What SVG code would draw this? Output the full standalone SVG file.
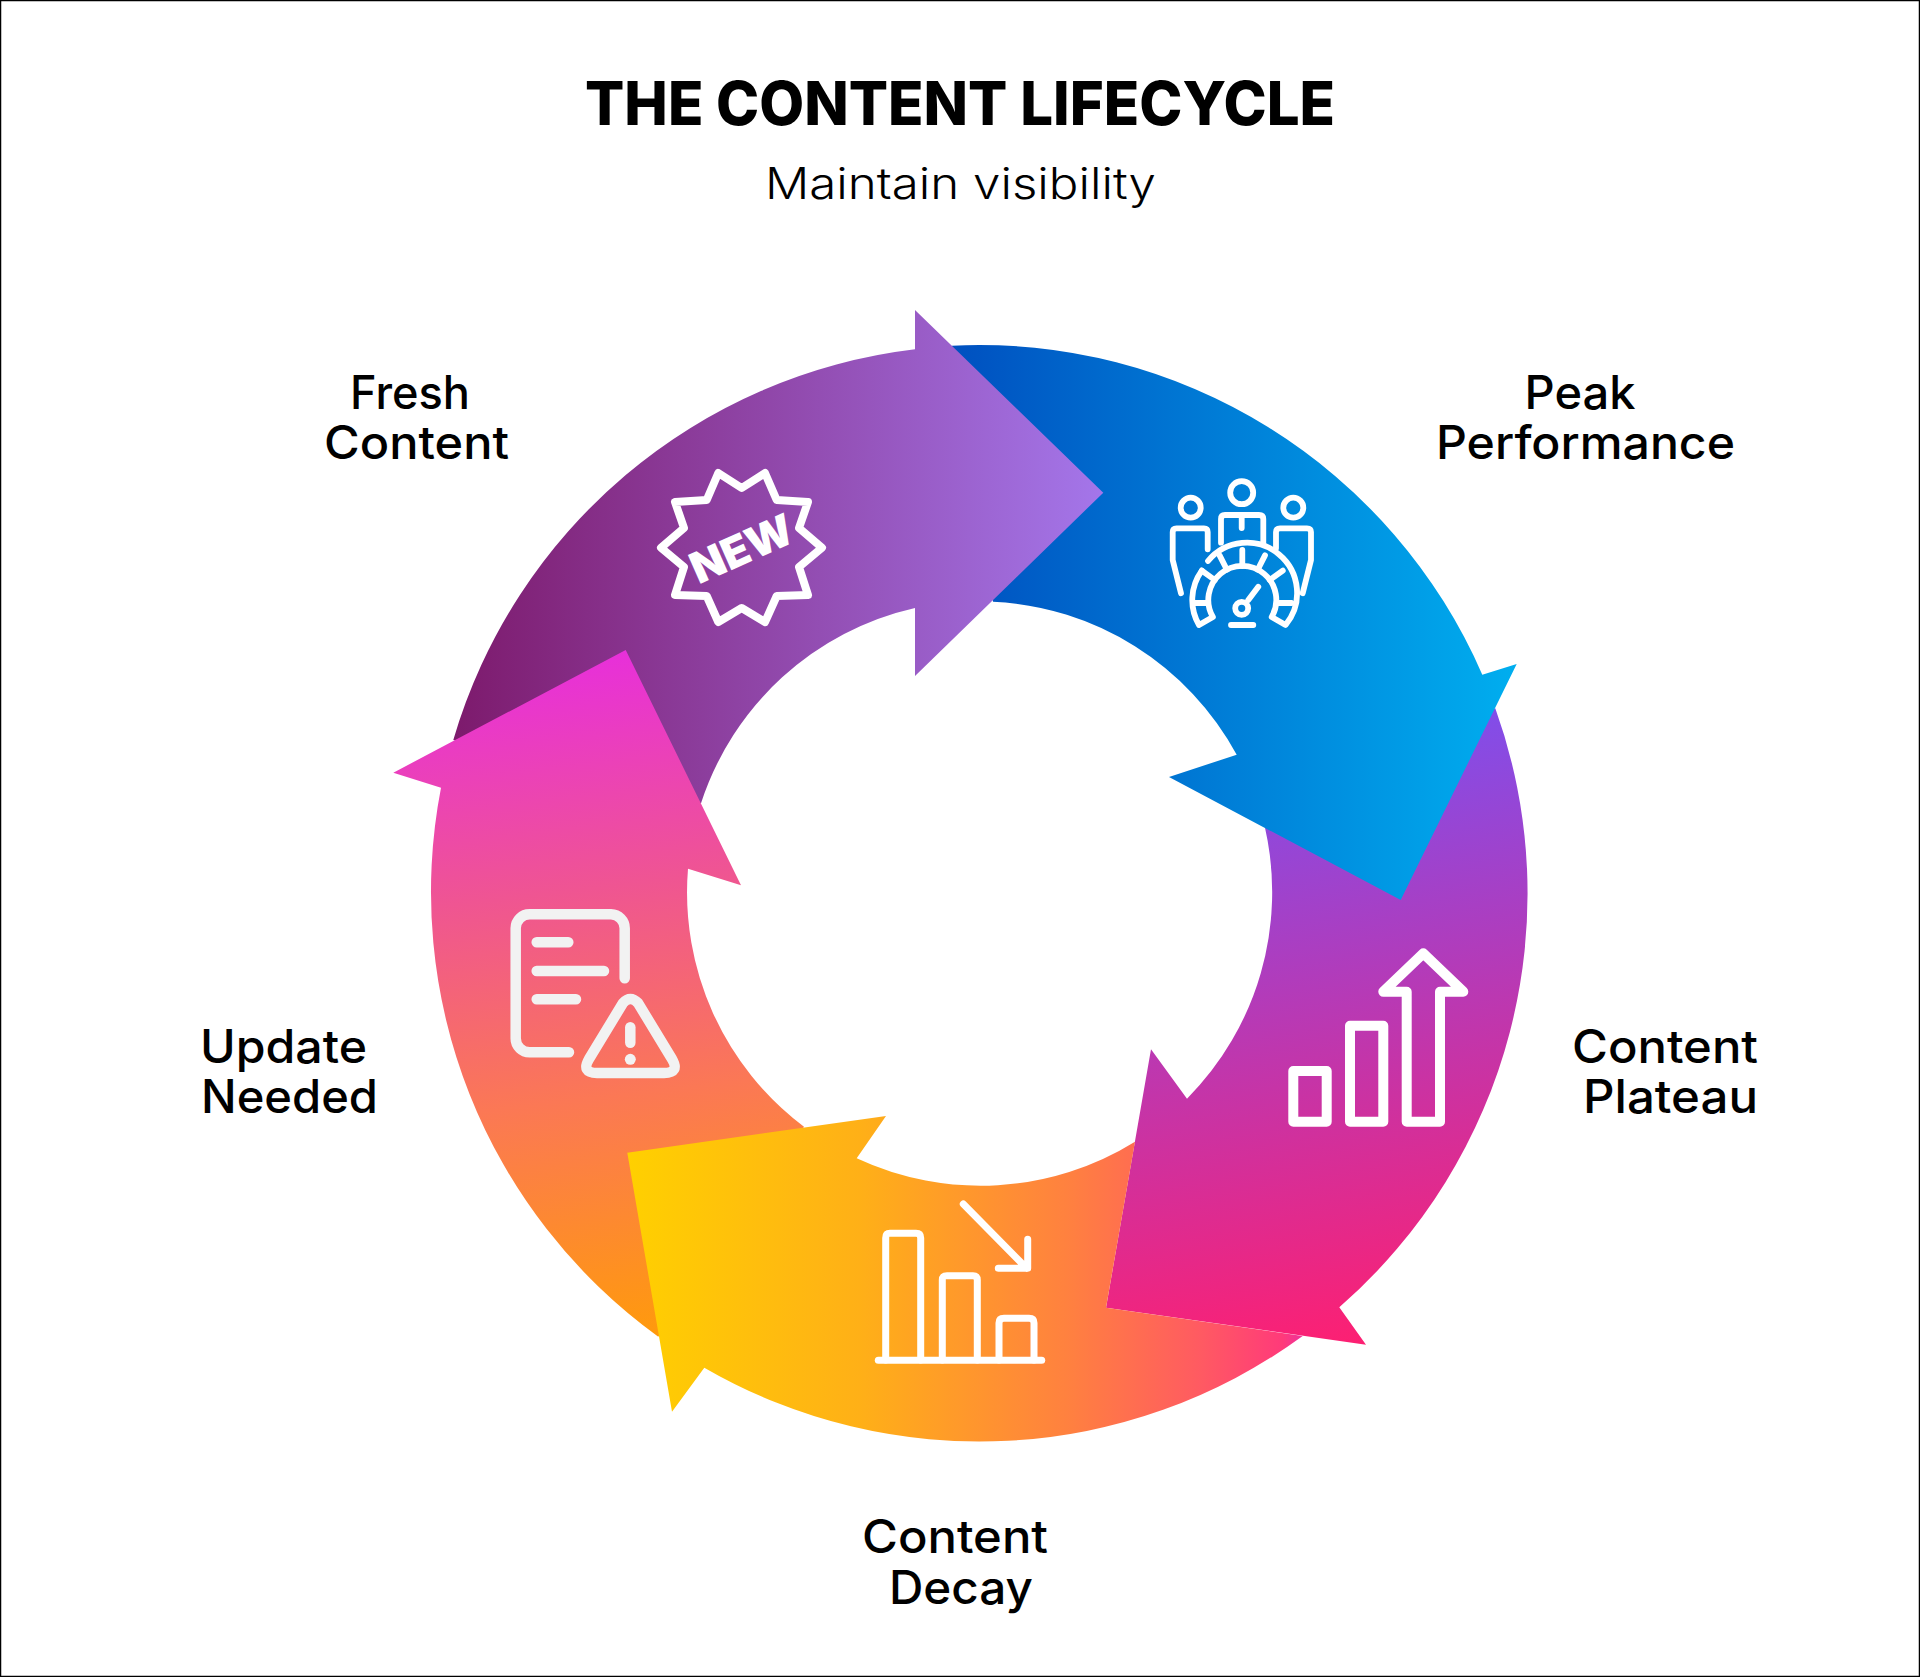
<svg xmlns="http://www.w3.org/2000/svg" width="1920" height="1677" viewBox="0 0 1920 1677">
<style>
text{font-family:"Inter","Noto Sans","Liberation Sans",sans-serif;fill:#000}
.lb{font-size:46px;font-weight:500}
.ic{fill:none;stroke:#fff;stroke-linecap:round;stroke-linejoin:round}
</style>
<defs>
<linearGradient id="gP" gradientUnits="userSpaceOnUse" x1="453" y1="0" x2="1103" y2="0"><stop offset="0" stop-color="#7d1a6c"/><stop offset="1" stop-color="#a476ea"/></linearGradient>
<linearGradient id="gB" gradientUnits="userSpaceOnUse" x1="952" y1="0" x2="1516" y2="0"><stop offset="0" stop-color="#0050c0"/><stop offset="1" stop-color="#00aeef"/></linearGradient>
<linearGradient id="gV" gradientUnits="userSpaceOnUse" x1="1300" y1="708" x2="1410" y2="1346"><stop offset="0" stop-color="#7a50f0"/><stop offset="1" stop-color="#ff1f70"/></linearGradient>
<linearGradient id="gY" gradientUnits="userSpaceOnUse" x1="627" y1="0" x2="1310" y2="0"><stop offset="0" stop-color="#ffd000"/><stop offset=".34" stop-color="#ffb017"/><stop offset=".65" stop-color="#ff8040"/><stop offset=".84" stop-color="#ff5a62"/><stop offset=".96" stop-color="#ff3a7a"/><stop offset="1" stop-color="#e82ea8"/></linearGradient>
<linearGradient id="gO" gradientUnits="userSpaceOnUse" x1="540" y1="650" x2="620" y2="1340"><stop offset="0" stop-color="#e72edd"/><stop offset=".35" stop-color="#ef5592"/><stop offset=".65" stop-color="#fb7855"/><stop offset="1" stop-color="#ff9a0c"/></linearGradient>
</defs>
<rect width="1920" height="1677" fill="#fff"/>
<rect x="0.5" y="0.5" width="1919" height="1676" fill="none" stroke="#000" stroke-width="1.5"/>
<g id="title">
<text x="585" y="125" font-size="61" font-weight="800" textLength="750" lengthAdjust="spacingAndGlyphs">THE CONTENT LIFECYCLE</text>
<text x="765" y="199" font-size="43" font-weight="300" textLength="391" lengthAdjust="spacingAndGlyphs">Maintain visibility</text>
</g>
<g id="connectors">
<path id="arrow-plateau" fill="url(#gV)" d="M1495.3 708.3A548.5 548.5 0 0 1 1339.3 1307.3L1366 1344.7L1106 1307.7L1151 1049.3L1187 1098.7A293 293 0 0 0 1265 827.7Z"/>
<path id="arrow-peak" fill="url(#gB)" d="M951.7 345.7A548.5 548.5 0 0 1 1482.3 674.7L1516.7 664L1400.7 900L1169 777L1236.7 754.7A293 293 0 0 0 993 601.7Z"/>
<path id="arrow-fresh" fill="url(#gP)" d="M453.3 740A548.5 548.5 0 0 1 915 349.3L915 310L1103.3 492.7L915 676L915 608A293 293 0 0 0 701 803.3Z"/>
<path id="arrow-update" fill="url(#gO)" d="M658.3 1336.7A548.5 548.5 0 0 1 441 787.7L393.3 772.7L625.7 650L741 885.3L688 868.7A293 293 0 0 0 804 1126.7Z"/>
<path id="arrow-decay" fill="url(#gY)" d="M1302.7 1336A548.5 548.5 0 0 1 704.3 1367.7L672 1411.7L627.3 1152.7L886 1116L856.7 1158.3A293 293 0 0 0 1135 1141.7L1106 1307.7Z"/>
</g>
<g id="fresh-content">
<path class="ic" stroke-width="8" d="M718.3 473L741.7 488L765 473L776.7 500L808 502L799 528L822 547.7L799 567L808 595L776.7 596L765 622L741.7 608L718.3 622L706.7 596L675 595L684 567L661 547.7L684 528L675 502L706.7 500Z"/>
<text transform="rotate(-24 741.7 548.3)" x="741.7" y="564" font-size="43" font-weight="900" style="fill:#fff" text-anchor="middle" textLength="108" lengthAdjust="spacingAndGlyphs">NEW</text>
<text class="lb" x="350" y="409" textLength="120" lengthAdjust="spacingAndGlyphs">Fresh</text>
<text class="lb" x="324" y="459" textLength="185" lengthAdjust="spacingAndGlyphs">Content</text>
</g>
<g id="peak-performance">
<g class="ic" stroke-width="5.8">
<circle cx="1241.7" cy="492.7" r="11.5"/><circle cx="1190.7" cy="507.7" r="10"/><circle cx="1293.3" cy="507.7" r="10"/>
<path d="M1221 542.7V519Q1221 515 1225 515H1259Q1263.3 515 1263.3 519V542.7M1241.7 515V528"/>
<path d="M1207.7 549.3V532Q1207.7 528.3 1204 528.3H1176.5Q1172.7 528.3 1172.7 532V560L1181 593.3"/>
<path d="M1276 548.3V532Q1276 528.3 1280 528.3H1307Q1311 528.3 1311 532V560L1302.7 593.3"/>
<path d="M1199 625A50 50 0 0 1 1201.8 570.6M1208 561A50 50 0 0 1 1285.6 625L1271.7 617A34 34 0 1 0 1212.9 617L1199 625"/>
<path d="M1242.3 566V550M1257.7 569.7L1265 555.4M1226.9 569.7L1219.6 555.4M1269.8 580L1282.8 570.6M1214.8 580L1201.8 570.6M1277 603H1291.5M1208 603H1193"/>
<circle cx="1241.7" cy="608.3" r="6.5"/>
<path d="M1248.3 600L1258.3 586.7M1231 625H1253.3"/>
</g>
<text class="lb" x="1524.5" y="409" textLength="111" lengthAdjust="spacingAndGlyphs">Peak</text>
<text class="lb" x="1436" y="459" textLength="299" lengthAdjust="spacingAndGlyphs">Performance</text>
</g>
<g id="content-plateau">
<g class="ic" stroke-width="10">
<rect x="1293.3" y="1071" width="33.4" height="50.7"/><rect x="1350" y="1025.7" width="33.3" height="96"/>
<path d="M1406.7 1121.7H1440V991.7H1463.3L1423.3 953.3L1383.3 991.7H1406.7Z"/>
</g>
<text class="lb" x="1572" y="1063" textLength="186" lengthAdjust="spacingAndGlyphs">Content</text>
<text class="lb" x="1583" y="1113" textLength="175" lengthAdjust="spacingAndGlyphs">Plateau</text>
</g>
<g id="content-decay">
<g class="ic" stroke-width="7">
<path d="M878.3 1360.3H1041.7"/>
<path d="M885.7 1360V1238Q885.7 1233.3 890 1233.3H916Q920.7 1233.3 920.7 1238V1360"/>
<path d="M942.3 1360V1280Q942.3 1275.7 947 1275.7H973Q977.3 1275.7 977.3 1280V1360"/>
<path d="M999 1360V1323Q999 1318.3 1004 1318.3H1029Q1034 1318.3 1034 1323V1360"/>
<path d="M963.3 1204L1026.7 1268.3M1027.7 1239.3V1268.3H998.3"/>
</g>
<text class="lb" x="862" y="1553" textLength="186" lengthAdjust="spacingAndGlyphs">Content</text>
<text class="lb" x="889" y="1604" textLength="144" lengthAdjust="spacingAndGlyphs">Decay</text>
</g>
<g id="update-needed">
<g class="ic" stroke-width="10.5" style="stroke:#f2f2f2">
<path d="M624.7 978.3V928.3A14 14 0 0 0 611 914.3H530A14 14 0 0 0 515.7 928.3V1038A14 14 0 0 0 530 1052.3H569"/>
<path d="M536.7 942.3H568.3M536.7 971H604M536.7 999.3H576"/>
<path d="M623 1003Q630.3 995 638 1003L672 1059Q680 1073 664 1073H597Q581 1073 589 1059Z"/>
<path d="M630.3 1027.3V1042.7"/>
</g>
<circle cx="630.3" cy="1059.3" r="5.5" fill="#f2f2f2"/>
<text class="lb" x="200" y="1063" textLength="167" lengthAdjust="spacingAndGlyphs">Update</text>
<text class="lb" x="201" y="1113" textLength="177" lengthAdjust="spacingAndGlyphs">Needed</text>
</g>
</svg>
